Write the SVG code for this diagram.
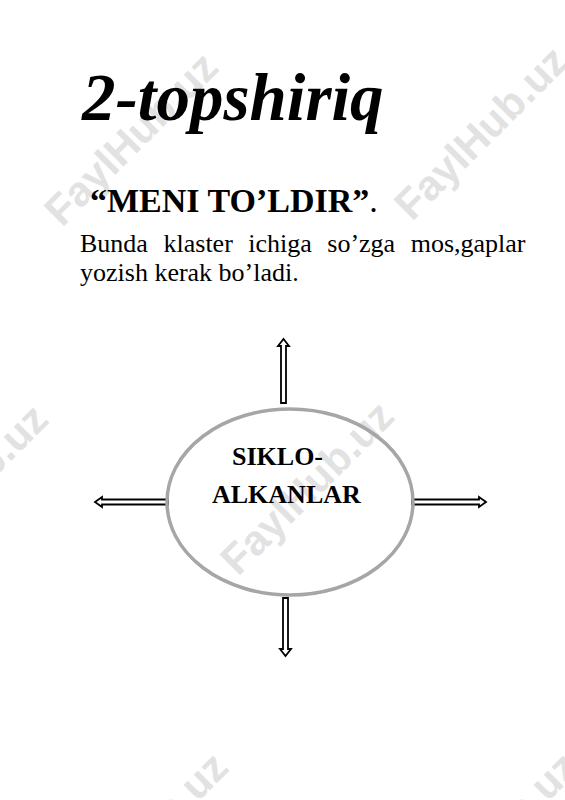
<svg xmlns="http://www.w3.org/2000/svg" width="565" height="800" viewBox="0 0 565 800">
<style>
.wm{font-family:"Liberation Sans",Arial,sans-serif;font-weight:bold;font-size:42px;fill:#e2e2e2}
.serif{font-family:"Liberation Serif","Times New Roman",serif;fill:#000}
.title{font-size:67px;font-weight:bold;font-style:italic}
.sub{font-size:34px;font-weight:bold}
.body{font-size:26px}
.node-label{font-size:26px;font-weight:bold}
.arrow{fill:#fff;stroke:#000;stroke-width:1.8;stroke-linejoin:miter}
.oval{fill:none;stroke:#a6a6a6;stroke-width:3.5}
</style>
<rect width="565" height="800" fill="#fff"/>
<g id="watermarks">
<text class="wm" transform="translate(62,228) rotate(-45)">FaylHub.uz</text>
<text class="wm" transform="translate(412,222) rotate(-45)">FaylHub.uz</text>
<text class="wm" transform="translate(-108,580) rotate(-45)">FaylHub.uz</text>
<text class="wm" transform="translate(238,577) rotate(-45)">FaylHub.uz</text>
<text class="wm" transform="translate(72,928) rotate(-45)">FaylHub.uz</text>
<text class="wm" transform="translate(422,928) rotate(-45)">FaylHub.uz</text>
</g>
<g id="heading">
<text class="serif title" x="82" y="120">2-topshiriq</text>
<text class="serif sub" x="90" y="212">“MENI TO’LDIR”<tspan font-weight="normal">.</tspan></text>
<text class="serif body" y="252"><tspan x="80">Bunda</tspan><tspan x="163.5">klaster</tspan><tspan x="248.3">ichiga</tspan><tspan x="327.3">so’zga</tspan><tspan x="410.7">mos,gaplar</tspan></text>
<text class="serif body" x="80" y="281">yozish kerak bo’ladi.</text>
</g>
<g id="connectors">
<path class="arrow" d="M281,403 V346 H278 L283.5,339 L289,346 H286 V403 Z"/>
<path class="arrow" d="M283,598 V649 H280 L285.5,656 L291,649 H288 V598 Z"/>
<path class="arrow" d="M168,499.5 H102 V497 L95,502 L102,507 V504.5 H168 Z"/>
<path class="arrow" d="M412,499.5 H479 V497 L486,502 L479,507 V504.5 H412 Z"/>
</g>
<g id="node-sikloalkanlar">
<ellipse class="oval" cx="290" cy="502" rx="123" ry="93"/>
<text class="serif node-label" x="232" y="465">SIKLO-</text>
<text class="serif node-label" x="212" y="503">ALKANLAR</text>
</g>
</svg>
